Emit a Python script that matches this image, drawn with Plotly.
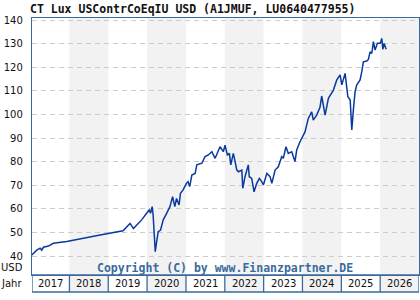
import plotly.graph_objects as go
import pandas as pd

# ---- data ----
dates = [
    "2017-01-12", "2017-02-28", "2017-03-31", "2017-04-16", "2017-05-01", "2017-06-17",
    "2017-08-03", "2017-12-07", "2018-10-16", "2019-01-18", "2019-05-20", "2019-07-25",
    "2019-08-26", "2019-09-26", "2019-11-11", "2019-12-28", "2020-01-21", "2020-02-03",
    "2020-02-18", "2020-02-27", "2020-03-08", "2020-03-18", "2020-03-31", "2020-04-15",
    "2020-05-07", "2020-06-01", "2020-07-03", "2020-08-03", "2020-08-28", "2020-09-18",
    "2020-10-04", "2020-10-28", "2020-11-10", "2020-12-05", "2021-01-05", "2021-01-20",
    "2021-02-05", "2021-02-25",
    "2021-03-28", "2021-04-13", "2021-05-30", "2021-06-29", "2021-07-30", "2021-09-01",
    "2021-10-02", "2021-11-01", "2021-11-17", "2021-12-18", "2022-01-03", "2022-01-25",
    "2022-02-13", "2022-02-26", "2022-03-22", "2022-04-08", "2022-04-23", "2022-05-09",
    "2022-06-10", "2022-06-19", "2022-07-10", "2022-08-10", "2022-08-19", "2022-09-11",
    "2022-10-03", "2022-10-28", "2022-11-22", "2022-12-14", "2022-12-30", "2023-01-31",
    "2023-03-03", "2023-03-19", "2023-04-19", "2023-05-19", "2023-06-20", "2023-07-05",
    "2023-07-30", "2023-08-21", "2023-09-22", "2023-10-23", "2023-11-08", "2023-12-09",
    "2023-12-28", "2024-01-25", "2024-02-25", "2024-03-28", "2024-04-12", "2024-05-14",
    "2024-06-14", "2024-06-30", "2024-08-01", "2024-09-01", "2024-10-18", "2024-11-19",
    "2024-12-20", "2025-01-05", "2025-02-05", "2025-03-03", "2025-03-25", "2025-04-03",
    "2025-04-09", "2025-04-24", "2025-05-10", "2025-05-26", "2025-06-26", "2025-07-12",
    "2025-07-27", "2025-08-28", "2025-09-12", "2025-09-28", "2025-10-14", "2025-10-29",
    "2025-11-14", "2025-12-06", "2026-01-01", "2026-01-16", "2026-01-26", "2026-02-07",
    "2026-02-26",
]
values = [
    40.4, 42.5, 43.3, 42.5, 43.7, 44.2,
    45.4, 46.1, 48.9, 49.6, 50.7, 53.8,
    51.6, 53.1, 55.3, 58.1, 59.5, 58.1,
    60.9, 57.4, 48.2, 41.8, 46.1, 50.3,
    51.0, 55.3, 58.1, 60.9, 65.1, 60.9,
    64.4, 61.6, 66.6, 68.0, 70.8, 71.5,
    69.4, 74.3,
    75.0, 78.6, 79.3, 82.1, 82.8, 84.2,
    81.4, 84.9, 86.3, 84.2, 87.0, 82.8,
    83.5, 78.6, 83.5, 80.0, 76.5, 75.7,
    76.4, 68.7, 73.6, 78.6, 73.6, 72.9,
    67.2, 70.8, 72.9, 71.5, 70.1, 75.0,
    73.6, 70.8, 76.4, 77.8, 82.1, 81.4,
    86.3, 83.5, 84.2, 80.0, 84.9, 88.4,
    90.0, 92.6, 98.3, 101.1, 97.6, 99.7,
    103.0, 107.8, 99.7, 106.8, 110.3, 114.6,
    116.7, 112.5, 117.4, 107.5, 106.1, 100.5,
    93.4, 101.9, 109.6, 112.5, 114.6, 118.1,
    122.3, 122.6, 123.3, 126.5, 125.8, 130.8,
    127.3, 130.1, 130.1, 132.2, 127.6, 130.1,
    127.6,
]
years = [2017, 2018, 2019, 2020, 2021, 2022, 2023, 2024, 2025, 2026]
shaded_years = [2018, 2020, 2022, 2024, 2026]
y_ticks = [40, 50, 60, 70, 80, 90, 100, 110, 120, 130, 140]

title_text = "CT Lux USContrCoEqIU USD (A1JMUF, LU0640477955)"
copyright_text = "Copyright (C) by www.Finanzpartner.DE"

x_start = "2017-01-14"
x_end = "2027-01-01"
y_min, y_max = 31.95, 140.85
row_bottom = -17 / 257  # year row below the plot, in paper units

border = "#3a6a9c"
label_font = dict(family="DejaVu Sans", size=10, color="#111111")

fig = go.Figure()
fig.add_trace(go.Scatter(
    x=dates, y=values, mode="lines",
    line=dict(color="#0a3a9e", width=1.5),
    hoverinfo="skip", showlegend=False,
))

shapes = []
for yr in shaded_years:
    shapes.append(dict(
        type="rect", xref="x", yref="paper",
        x0=f"{yr}-01-01", x1=min(f"{yr + 1}-01-01", x_end),
        y0=row_bottom, y1=1, fillcolor="#f2f2f2", line=dict(width=0), layer="below",
    ))
# year row frame
shapes.append(dict(type="rect", xref="x", yref="paper", x0=x_start, x1=x_end,
                   y0=row_bottom, y1=0, line=dict(color=border, width=1.3),
                   fillcolor="rgba(0,0,0,0)", layer="above"))
for yr in years[1:]:
    shapes.append(dict(type="line", xref="x", yref="paper",
                       x0=f"{yr}-01-01", x1=f"{yr}-01-01", y0=row_bottom, y1=0,
                       line=dict(color=border, width=1.3), layer="above"))

annotations = []
for yr in years:
    t0 = pd.Timestamp(max(f"{yr}-01-01", x_start))
    t1 = pd.Timestamp(min(f"{yr + 1}-01-01", x_end))
    mid = t0 + (t1 - t0) / 2
    annotations.append(dict(x=mid.strftime("%Y-%m-%d %H:%M"), y=row_bottom / 2,
                            xref="x", yref="paper", text=str(yr), showarrow=False,
                            xanchor="center", yanchor="middle", font=label_font))
annotations.append(dict(x=-8 / 387, y=-8.5 / 257, xref="paper", yref="paper", text="Jahr",
                        showarrow=False, xanchor="right", yanchor="middle", font=label_font))
annotations.append(dict(x=-7 / 387, y=7.5 / 257, xref="paper", yref="paper", text="USD",
                        showarrow=False, xanchor="right", yanchor="middle", font=label_font))
annotations.append(dict(x=0.498, y=7.5 / 257, xref="paper", yref="paper", text=copyright_text,
                        showarrow=False, xanchor="center", yanchor="middle",
                        font=dict(family="DejaVu Sans Mono", size=11.5, color="#3a6a9c",
                                  weight="bold")))

fig.update_layout(
    width=420, height=300,
    margin=dict(l=32, r=1, t=18, b=25),
    paper_bgcolor="white", plot_bgcolor="white",
    title=dict(text=title_text, x=30 / 420, xanchor="left", xref="container",
               y=1 - 9 / 300, yanchor="middle",
               font=dict(family="DejaVu Sans Mono", size=11.5, color="#111111", weight="bold")),
    shapes=shapes, annotations=annotations,
    xaxis=dict(range=[x_start, x_end], showgrid=False, showticklabels=False, ticks="",
               showline=True, linecolor=border, linewidth=1.3, mirror=True, zeroline=False),
    yaxis=dict(range=[y_min, y_max], tickvals=y_ticks, ticktext=[str(v) for v in y_ticks],
               showgrid=True, gridcolor="#cccccc", gridwidth=1, griddash="5px,4px",
               ticks="", ticklabelstandoff=6, tickfont=label_font,
               showline=True, linecolor=border, linewidth=1.3, mirror=True, zeroline=False),
)

fig.write_html("out.html")
